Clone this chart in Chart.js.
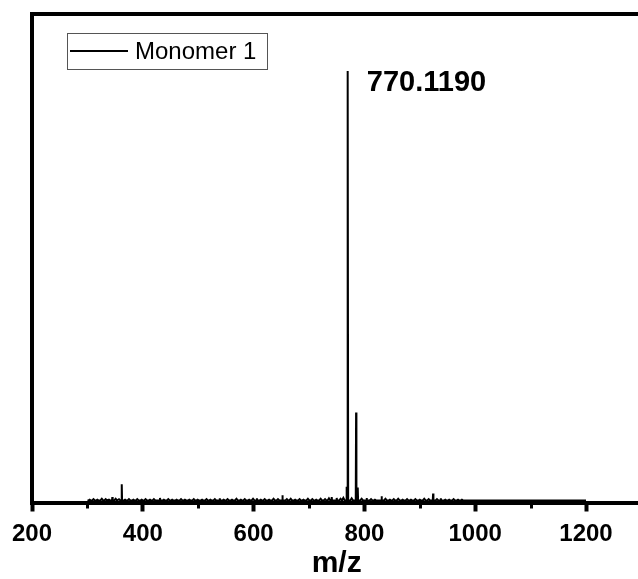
<!DOCTYPE html>
<html>
<head>
<meta charset="utf-8">
<script src="https://cdn.jsdelivr.net/npm/chart.js@4/dist/chart.umd.min.js"></script>
<style>
  html, body { margin: 0; padding: 0; background: #fff; overflow: hidden; }
  #wrap { width: 644px; height: 579px; }
</style>
</head>
<body>
<div id="wrap"><canvas id="ms" width="644" height="579"></canvas></div>
<script>
"use strict";

var FONT = "'Liberation Sans', Arial, sans-serif";

// x axis ticks
var xTicks = [200, 400, 600, 800, 1000, 1200];
var xMinorTicks = [300, 500, 700, 900, 1100];

// labelled / visible peaks (m/z, relative intensity)
var peakMz  = [345, 362, 431, 539, 606, 652, 741, 750, 768, 770.119, 785, 788, 804, 831, 924, 938];
var peakInt = [0.8, 3.8, 0.6, 0.5, 0.5, 1.2, 0.8, 0.6, 3.2, 100, 20.5, 3.0, 0.6, 1.0, 1.6, 0.5];

var noiseMz = [
  304, 311, 318, 326, 333, 339, 351, 357, 368, 375,
  383, 390, 398, 405, 413, 420, 438, 446, 453, 461,
  469, 476, 484, 492, 499, 507, 515, 522, 530, 546,
  553, 561, 569, 577, 584, 592, 599, 613, 620, 628,
  636, 644, 660, 667, 675, 683, 690, 698, 706, 713,
  721, 729, 736, 757, 762, 777, 795, 812, 819, 838,
  846, 853, 861, 869, 877, 884, 892, 900, 908, 916,
  931, 946, 953, 961, 969, 976
];
var noiseInt = [
  0.2, 0.3, 0.2, 0.4, 0.3, 0.2, 0.4, 0.3, 0.2, 0.3,
  0.2, 0.3, 0.2, 0.3, 0.2, 0.3, 0.2, 0.3, 0.2, 0.2,
  0.3, 0.2, 0.2, 0.3, 0.2, 0.2, 0.3, 0.2, 0.3, 0.2,
  0.3, 0.2, 0.4, 0.2, 0.3, 0.2, 0.4, 0.2, 0.3, 0.2,
  0.4, 0.3, 0.3, 0.4, 0.2, 0.3, 0.2, 0.4, 0.3, 0.2,
  0.4, 0.3, 0.5, 0.4, 0.6, 0.5, 0.4, 0.3, 0.2, 0.4,
  0.2, 0.3, 0.4, 0.2, 0.3, 0.2, 0.3, 0.2, 0.4, 0.3,
  0.3, 0.2, 0.2, 0.3, 0.2, 0.2
];

var scanStart = 300, scanEnd = 1200;
var seriesLabel = "Monomer 1";
var peakLabel = "770.1190";
var peakLabelMz = 770.119;

// stick peaks -> line points (baseline, top, baseline)
function buildSpectrum() {
  var all = [];
  peakMz.forEach(function (m, i) { all.push([m, peakInt[i], 0.6]); });
  noiseMz.forEach(function (m, i) { all.push([m, noiseInt[i], 2.5]); });
  all.sort(function (a, b) { return a[0] - b[0]; });
  var pts = [{ x: scanStart, y: 0 }];
  all.forEach(function (p) {
    pts.push({ x: p[0] - p[2], y: 0 });
    pts.push({ x: p[0], y: p[1] });
    pts.push({ x: p[0] + p[2], y: 0 });
  });
  pts.push({ x: scanEnd, y: 0 });
  return pts;
}

var decorations = {
  id: "decorations",
  afterDraw: function (chart) {
    var ctx = chart.ctx;
    var xs = chart.scales.x, ys = chart.scales.y;
    var base = chart.chartArea.bottom;
    ctx.save();

    // minor ticks
    ctx.strokeStyle = "#000";
    ctx.lineWidth = 3;
    xMinorTicks.forEach(function (v) {
      var px = Math.round(xs.getPixelForValue(v)) + 0.5;
      ctx.beginPath();
      ctx.moveTo(px, base + 2);
      ctx.lineTo(px, base + 6);
      ctx.stroke();
    });

    // legend box
    ctx.lineWidth = 1;
    ctx.strokeStyle = "#555";
    ctx.strokeRect(67.5, 33.5, 200, 36);
    ctx.strokeStyle = "#000";
    ctx.lineWidth = 2;
    ctx.beginPath();
    ctx.moveTo(70, 51);
    ctx.lineTo(128, 51);
    ctx.stroke();
    ctx.fillStyle = "#000";
    ctx.font = "24px " + FONT;
    ctx.textAlign = "left";
    ctx.textBaseline = "middle";
    ctx.fillText(seriesLabel, 135, 52);

    // peak label
    ctx.font = "bold 29px " + FONT;
    ctx.fillText(peakLabel, xs.getPixelForValue(peakLabelMz) + 19, ys.getPixelForValue(100) + 12);
    ctx.restore();
  }
};

new Chart(document.getElementById("ms"), {
  type: "line",
  data: {
    datasets: [{
      label: seriesLabel,
      data: buildSpectrum(),
      borderColor: "#000",
      borderWidth: 2,
      pointRadius: 0,
      tension: 0,
      fill: false
    }]
  },
  options: {
    responsive: false,
    animation: false,
    devicePixelRatio: 1,
    layout: { padding: { left: 32, right: 2.6, top: 13.5, bottom: 0 } },
    plugins: { legend: { display: false }, tooltip: { enabled: false } },
    scales: {
      x: {
        type: "linear",
        position: "bottom",
        min: 200, max: 1300,
        afterBuildTicks: function (s) { s.ticks = xTicks.map(function (v) { return { value: v }; }); },
        afterFit: function (s) { s.height = 76.5; },
        ticks: {
          color: "#000",
          font: { family: FONT, size: 24, weight: "bold" },
          padding: 8,
          maxRotation: 0,
          autoSkip: false,
          callback: function (v) { return String(v); }
        },
        grid: { display: true, drawOnChartArea: false, drawTicks: true, tickLength: 9, tickWidth: 4, tickColor: "#000" },
        border: { display: true, color: "#000", width: 4 },
        title: {
          display: true,
          text: "m/z",
          color: "#000",
          font: { family: FONT, size: 30, weight: "bold", lineHeight: 1 },
          padding: { top: 0, bottom: 0 }
        }
      },
      x2: {
        type: "linear",
        position: "top",
        min: 200, max: 1300,
        afterFit: function (s) { s.height = 0; },
        ticks: { display: false },
        grid: { display: false },
        border: { display: true, color: "#000", width: 4 }
      },
      y: {
        type: "linear",
        position: "left",
        min: -0.47, max: 113.4,
        afterFit: function (s) { s.width = 0; },
        ticks: { display: false },
        grid: { display: false },
        border: { display: true, color: "#000", width: 4 }
      },
      y2: {
        type: "linear",
        position: "right",
        min: -0.47, max: 113.4,
        afterFit: function (s) { s.width = 0; },
        ticks: { display: false },
        grid: { display: false },
        border: { display: true, color: "#000", width: 4 }
      }
    }
  },
  plugins: [decorations]
});
</script>
</body>
</html>
